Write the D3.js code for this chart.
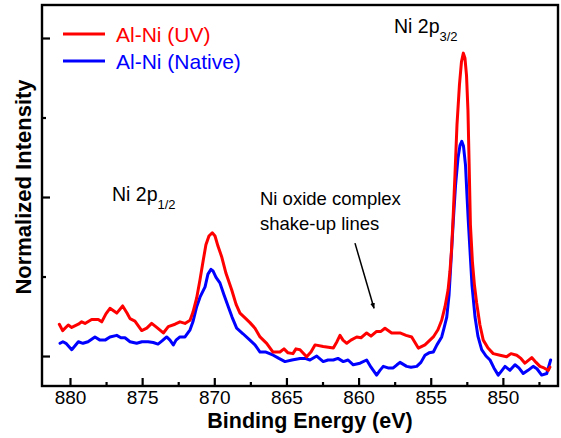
<!DOCTYPE html>
<html>
<head>
<meta charset="utf-8">
<script src="https://cdn.jsdelivr.net/npm/d3@7"></script>
<style>
  html, body { margin: 0; padding: 0; background: #fff; }
  svg { display: block; font-family: "Liberation Sans", Arial, sans-serif; }
</style>
</head>
<body>
<svg id="chart" width="561" height="438"></svg>
<script>
// ---- data ----
const seriesNames = ["Al-Ni (UV)", "Al-Ni (Native)"];
const seriesColors = ["#ff0000", "#0000ff"];

const energyUV = [880.74,880.51,880.12,879.88,879.42,879.19,878.96,878.50,878.04,877.80,877.51,877.23,876.76,876.35,876.05,875.84,875.50,875.03,874.68,874.34,873.99,873.53,873.19,872.72,872.38,872.03,871.68,871.48,871.22,870.99,870.76,870.58,870.37,870.14,869.95,869.74,869.49,869.19,868.79,868.49,868.22,867.87,867.53,867.18,866.83,866.37,865.93,865.45,865.17,864.89,864.55,864.34,864.06,863.60,863.30,863.02,862.45,861.75,861.50,861.29,861.08,860.82,860.53,860.13,859.83,859.44,859.14,858.75,858.45,858.17,857.71,857.41,857.13,856.71,856.32,855.86,855.40,854.82,854.50,854.24,854.01,853.80,853.67,853.56,853.46,853.32,853.18,853.01,852.87,852.74,852.63,852.52,852.42,852.33,852.25,852.11,851.97,851.82,851.59,851.36,851.03,850.67,850.20,849.74,849.44,849.04,848.75,848.47,848.00,847.70,847.43,847.15,846.85,846.74];
const intensityUV = [0.40,0.32,0.39,0.36,0.40,0.43,0.41,0.46,0.46,0.43,0.53,0.60,0.54,0.63,0.54,0.47,0.44,0.32,0.35,0.41,0.36,0.29,0.37,0.40,0.43,0.41,0.45,0.55,0.73,0.96,1.21,1.40,1.51,1.55,1.51,1.38,1.25,1.04,0.83,0.65,0.54,0.48,0.42,0.35,0.24,0.16,0.05,0.05,0.09,0.04,0.03,0.09,0.08,-0.01,0.05,0.14,0.12,0.10,0.18,0.26,0.20,0.16,0.20,0.24,0.23,0.29,0.25,0.31,0.31,0.35,0.29,0.29,0.29,0.26,0.24,0.10,0.14,0.24,0.33,0.45,0.62,0.83,1.06,1.33,1.69,2.28,2.91,3.41,3.70,3.81,3.75,3.53,3.09,2.34,1.65,1.18,0.89,0.67,0.39,0.20,0.10,0.03,0.01,-0.01,0.03,0.01,-0.03,-0.09,-0.02,-0.08,-0.13,-0.15,-0.18,-0.14];

const energyNative = [880.69,880.49,880.28,879.88,879.65,879.42,879.10,878.75,878.27,877.92,877.57,877.23,876.76,876.47,876.19,875.84,875.38,875.01,874.59,874.23,873.90,873.62,873.30,873.07,872.84,872.65,872.38,872.03,871.68,871.48,871.22,870.99,870.64,870.44,870.23,870.09,869.88,869.61,869.33,869.03,868.77,868.45,868.01,867.53,867.18,866.83,866.42,865.91,865.52,865.10,864.62,864.06,863.71,863.37,862.90,862.45,862.12,861.75,861.43,861.06,860.73,860.37,859.90,859.44,859.14,858.75,858.52,858.29,857.96,857.60,857.34,857.13,856.67,856.37,855.97,855.68,855.40,855.12,854.82,854.57,854.24,854.08,853.89,853.73,853.60,853.44,853.28,853.11,852.97,852.85,852.73,852.59,852.49,852.40,852.28,852.14,851.93,851.73,851.47,851.17,850.89,850.62,850.32,850.06,849.85,849.51,849.16,848.89,848.59,848.26,847.90,847.64,847.31,846.96,846.69];
const intensityNative = [0.16,0.18,0.16,0.08,0.13,0.18,0.16,0.18,0.24,0.20,0.20,0.24,0.26,0.23,0.23,0.18,0.16,0.18,0.18,0.17,0.15,0.19,0.24,0.20,0.14,0.20,0.24,0.24,0.33,0.43,0.62,0.74,0.87,1.03,1.09,1.07,0.99,0.92,0.77,0.62,0.49,0.35,0.28,0.20,0.14,0.05,0.05,0.01,-0.03,-0.07,-0.05,-0.03,-0.03,-0.05,0.00,-0.07,-0.05,-0.05,-0.03,-0.07,-0.05,-0.11,-0.09,-0.05,-0.14,-0.24,-0.18,-0.13,-0.15,-0.15,-0.11,-0.08,-0.13,-0.14,-0.13,-0.08,0.01,0.04,0.05,0.14,0.24,0.35,0.49,0.77,1.18,1.69,2.15,2.49,2.65,2.70,2.64,2.40,2.03,1.71,1.33,0.89,0.49,0.25,0.08,0.00,-0.05,-0.15,-0.24,-0.18,-0.13,-0.18,-0.11,-0.15,-0.22,-0.18,-0.13,-0.16,-0.24,-0.22,-0.05];

const xMajorTicks = [880, 875, 870, 865, 860, 855, 850];
const xMinorTicks = [877.5, 872.5, 867.5, 862.5, 857.5, 852.5, 847.5];
const yMajorTicks = [0, 2, 4];
const yMinorTicks = [1, 3];
const xDomain = [881.94, 846.18];
const yDomain = [-0.377, 4.415];

// ---- layout ----
const W = 561, H = 438;
const m = { left: 42, right: 3, top: 5, bottom: 52 };
const svg = d3.select("#chart");

const x = d3.scaleLinear().domain(xDomain).range([m.left, W - m.right]);
const y = d3.scaleLinear().domain(yDomain).range([H - m.bottom, m.top]);

const toPts = (es, vs) => es.slice(0, Math.min(es.length, vs.length)).map((e, i) => [e, vs[i]]);
const series = [toPts(energyUV, intensityUV), toPts(energyNative, intensityNative)];

const line = d3.line().x(d => x(d[0])).y(d => y(d[1])).curve(d3.curveLinear);

// draw the native (blue) first then UV (red) on top
[1, 0].forEach(i => {
  svg.append("path")
    .datum(series[i])
    .attr("fill", "none")
    .attr("stroke", seriesColors[i])
    .attr("stroke-width", 3)
    .attr("stroke-linejoin", "round")
    .attr("stroke-linecap", "round")
    .attr("d", line);
});

// frame
svg.append("rect")
  .attr("x", m.left).attr("y", m.top)
  .attr("width", W - m.left - m.right).attr("height", H - m.top - m.bottom)
  .attr("fill", "none").attr("stroke", "#000").attr("stroke-width", 2.4);

// x axis (inward ticks)
const gx = svg.append("g").attr("transform", `translate(0,${H - m.bottom})`);
gx.call(d3.axisBottom(x).tickValues(xMajorTicks).tickSizeInner(-8).tickSizeOuter(0).tickPadding(5).tickFormat(d3.format("d")));
gx.call(g => g.select(".domain").remove());
gx.selectAll(".tick line").attr("stroke-width", 2.2);
gx.selectAll(".tick text").attr("font-size", 19).attr("font-family", "Liberation Sans, Arial, sans-serif").attr("fill", "#000");
const gxm = svg.append("g").attr("transform", `translate(0,${H - m.bottom})`);
gxm.call(d3.axisBottom(x).tickValues(xMinorTicks).tickSizeInner(-4).tickSizeOuter(0).tickFormat(""));
gxm.call(g => g.select(".domain").remove());
gxm.selectAll(".tick line").attr("stroke-width", 2.2);

// y axis (inward ticks, no labels)
const gy = svg.append("g").attr("transform", `translate(${m.left},0)`);
gy.call(d3.axisLeft(y).tickValues(yMajorTicks).tickSizeInner(-8).tickSizeOuter(0).tickFormat(""));
gy.call(g => g.select(".domain").remove());
gy.selectAll(".tick line").attr("stroke-width", 2.2);
const gym = svg.append("g").attr("transform", `translate(${m.left},0)`);
gym.call(d3.axisLeft(y).tickValues(yMinorTicks).tickSizeInner(-4).tickSizeOuter(0).tickFormat(""));
gym.call(g => g.select(".domain").remove());
gym.selectAll(".tick line").attr("stroke-width", 2.2);

// axis titles
svg.append("text")
  .attr("x", 310).attr("y", 428)
  .attr("text-anchor", "middle")
  .attr("font-size", 21.5).attr("font-weight", "bold")
  .text("Binding Energy (eV)");
svg.append("text")
  .attr("transform", `translate(31,187) rotate(-90)`)
  .attr("text-anchor", "middle")
  .attr("font-size", 22).attr("font-weight", "bold")
  .text("Normalized Intensity");

// legend
const legend = svg.append("g");
seriesNames.forEach((name, i) => {
  const yy = 34 + i * 27;
  legend.append("line").attr("x1", 63).attr("x2", 105).attr("y1", yy).attr("y2", yy)
    .attr("stroke", seriesColors[i]).attr("stroke-width", 3);
  legend.append("text").attr("x", 116).attr("y", yy + 8)
    .attr("font-size", 21).attr("fill", seriesColors[i]).text(name);
});

// peak labels
function peakLabel(px, py, sub) {
  const t = svg.append("text").attr("x", px).attr("y", py).attr("font-size", 19.5).attr("fill", "#000");
  t.append("tspan").text("Ni 2p");
  t.append("tspan").attr("dy", 8).attr("font-size", 13).text(sub);
}
peakLabel(394, 33, "3/2");
peakLabel(112, 201, "1/2");

// shake-up annotation
svg.append("text").attr("x", 260).attr("y", 205).attr("font-size", 18.5).text("Ni oxide complex");
svg.append("text").attr("x", 260).attr("y", 230).attr("font-size", 18.5).text("shake-up lines");

svg.append("defs").append("marker")
  .attr("id", "arrow").attr("viewBox", "0 0 10 10").attr("refX", 9).attr("refY", 5)
  .attr("markerWidth", 6).attr("markerHeight", 6).attr("markerUnits", "userSpaceOnUse")
  .attr("orient", "auto")
  .append("path").attr("d", "M0,1 L10,5 L0,9 z").attr("fill", "#000");
const arrowFrom = [860.25, 1.42], arrowTo = [858.93, 0.60];
svg.append("line")
  .attr("x1", x(arrowFrom[0])).attr("y1", y(arrowFrom[1]))
  .attr("x2", x(arrowTo[0])).attr("y2", y(arrowTo[1]))
  .attr("stroke", "#000").attr("stroke-width", 1.5)
  .attr("marker-end", "url(#arrow)");
</script>
</body>
</html>
